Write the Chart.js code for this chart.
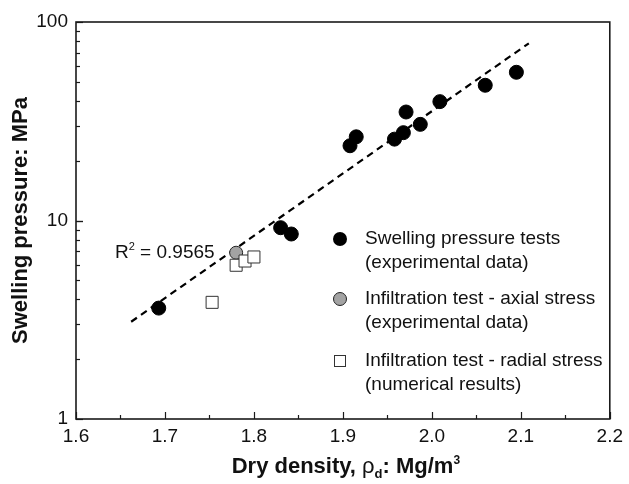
<!DOCTYPE html>
<html>
<head>
<meta charset="utf-8">
<script src="https://cdn.jsdelivr.net/npm/chart.js@4.4.1/dist/chart.umd.min.js"></script>
<style>
  html, body { margin: 0; padding: 0; background: #fff; }
  #wrap { width: 629px; height: 484px; }
</style>
</head>
<body>
<div id="wrap"><canvas id="swellChart"></canvas></div>
<script>
// Swelling pressure vs dry density

const swellX = [1.693, 1.830, 1.842, 1.908, 1.915, 1.958, 1.968, 1.971, 1.987, 2.009, 2.060, 2.095];
const swellY = [3.62, 9.2, 8.55, 23.8, 26.4, 25.7, 27.7, 35.2, 30.5, 39.7, 48.0, 55.8];

const axialX = [1.780];
const axialY = [6.88];

const radialX = [1.753, 1.780, 1.790, 1.800];
const radialY = [3.87, 5.95, 6.25, 6.55];

const fitX = [1.662, 2.109];
const fitY = [3.09, 78.1];

const xTicks = [1.6, 1.7, 1.8, 1.9, 2.0, 2.1, 2.2];
const yTicks = [1, 10, 100];

const legendLabels = [
    ['Swelling pressure tests', '(experimental data)'],
    ['Infiltration test - axial stress', '(experimental data)'],
    ['Infiltration test - radial stress', '(numerical results)']
];

function pts(xs, ys) {
    return xs.map(function(x, i) { return { x: x, y: ys[i] }; });
}

const FONT = '"Liberation Sans", Arial, Helvetica, sans-serif';

const framePlugin = {
    id: 'frame',
    afterDraw: function(chart) {
        const ctx = chart.ctx;
        const a = chart.chartArea;
        const xs = chart.scales.x;
        const ys = chart.scales.y;
        ctx.save();
        ctx.strokeStyle = '#1a1a1a';
        ctx.lineWidth = 1.2;

        // inside ticks on bottom axis
        for (let v = 1.6; v <= 2.2001; v += 0.05) {
            const px = Math.round(xs.getPixelForValue(v)) + 0.5;
            const major = Math.abs(Math.round(v * 10) - v * 10) < 0.001;
            ctx.beginPath();
            ctx.moveTo(px, a.bottom);
            ctx.lineTo(px, a.bottom - (major ? 7 : 4));
            ctx.stroke();
        }
        // inside ticks on left axis
        [1, 10].forEach(function(dec) {
            for (let m = 1; m <= 10; m++) {
                const py = Math.round(ys.getPixelForValue(dec * m)) + 0.5;
                const major = (m === 1 || m === 10);
                ctx.beginPath();
                ctx.moveTo(a.left, py);
                ctx.lineTo(a.left + (major ? 7 : 4), py);
                ctx.stroke();
            }
        });

        // frame
        ctx.lineWidth = 1.6;
        ctx.strokeRect(a.left, a.top, a.right - a.left, a.bottom - a.top);

        // axis titles
        ctx.fillStyle = '#111';
        ctx.font = 'bold 22px ' + FONT;
        ctx.textBaseline = 'middle';
        ctx.save();
        ctx.translate(21, (a.top + a.bottom) / 2);
        ctx.rotate(-Math.PI / 2);
        ctx.textAlign = 'center';
        ctx.fillText('Swelling pressure: MPa', 0, 0);
        ctx.restore();

        // x title with subscript
        const p1 = 'Dry density, ';
        const rho = '\u03C1';
        const sub = 'd';
        const p2 = ': Mg/m';
        const sup = '3';
        ctx.font = 'bold 22px ' + FONT;
        const w1 = ctx.measureText(p1).width;
        const w3 = ctx.measureText(p2).width;
        ctx.font = '22px ' + FONT;
        const wr = ctx.measureText(rho).width;
        ctx.font = 'bold 13px ' + FONT;
        const w2 = ctx.measureText(sub).width;
        ctx.font = 'bold 12px ' + FONT;
        const w4 = ctx.measureText(sup).width;
        let tx = (a.left + a.right) / 2 + 3 - (w1 + wr + w2 + w3 + w4) / 2;
        const ty = 467;
        ctx.textAlign = 'left';
        ctx.font = 'bold 22px ' + FONT;
        ctx.fillText(p1, tx, ty); tx += w1;
        ctx.font = '22px ' + FONT;
        ctx.fillText(rho, tx, ty); tx += wr;
        ctx.font = 'bold 13px ' + FONT;
        ctx.fillText(sub, tx, ty + 7); tx += w2;
        ctx.font = 'bold 22px ' + FONT;
        ctx.fillText(p2, tx, ty); tx += w3;
        ctx.font = 'bold 12px ' + FONT;
        ctx.fillText(sup, tx, ty - 6);

        // R^2 label
        ctx.font = '19px ' + FONT;
        ctx.fillText('R', 115, 253);
        const rw = ctx.measureText('R').width;
        ctx.font = '11px ' + FONT;
        ctx.fillText('2', 115 + rw, 247);
        const sw = ctx.measureText('2').width;
        ctx.font = '19px ' + FONT;
        ctx.fillText(' = 0.9565', 115 + rw + sw, 253);

        // legend
        const rows = [239, 299, 361];
        const mx = 340;
        ctx.lineWidth = 1;
        // black circle
        ctx.beginPath();
        ctx.arc(mx, rows[0], 7, 0, Math.PI * 2);
        ctx.fillStyle = '#000';
        ctx.fill();
        // grey circle
        ctx.beginPath();
        ctx.arc(mx, rows[1], 6.5, 0, Math.PI * 2);
        ctx.fillStyle = '#a3a3a3';
        ctx.fill();
        ctx.strokeStyle = '#222';
        ctx.stroke();
        // square
        ctx.fillStyle = '#fff';
        ctx.fillRect(mx - 6, rows[2] - 6, 12, 12);
        ctx.strokeStyle = '#333';
        ctx.strokeRect(mx - 5.5, rows[2] - 5.5, 11, 11);

        ctx.fillStyle = '#111';
        ctx.font = '19px ' + FONT;
        legendLabels.forEach(function(lines, i) {
            ctx.fillText(lines[0], 365, rows[i]);
            ctx.fillText(lines[1], 365, rows[i] + 24);
        });
        ctx.restore();
    }
};

const ctx = document.getElementById('swellChart').getContext('2d');
new Chart(ctx, {
    type: 'scatter',
    data: {
        datasets: [
            {
                label: 'fit',
                type: 'line',
                data: pts(fitX, fitY),
                borderColor: '#000',
                borderWidth: 2.2,
                borderDash: [7, 5],
                pointRadius: 0,
                fill: false,
                order: 4
            },
            {
                label: 'Swelling pressure tests',
                data: pts(swellX, swellY),
                backgroundColor: '#000',
                borderColor: '#000',
                pointRadius: 7,
                pointHoverRadius: 7,
                order: 3
            },
            {
                label: 'Infiltration test - axial stress',
                data: pts(axialX, axialY),
                backgroundColor: '#a3a3a3',
                borderColor: '#222',
                borderWidth: 1,
                pointRadius: 6.5,
                order: 2
            },
            {
                label: 'Infiltration test - radial stress',
                data: pts(radialX, radialY),
                pointStyle: 'rect',
                backgroundColor: '#fff',
                borderColor: '#333',
                borderWidth: 1,
                pointRadius: 8.5,
                order: 1
            }
        ]
    },
    options: {
        responsive: true,
        maintainAspectRatio: false,
        animation: false,
        layout: { padding: { top: 22, right: 14, left: 0, bottom: 0 } },
        plugins: {
            legend: { display: false },
            tooltip: { enabled: false }
        },
        scales: {
            x: {
                type: 'linear',
                min: 1.6,
                max: 2.2,
                grid: { display: false, drawTicks: false },
                border: { display: false },
                afterBuildTicks: function(scale) {
                    scale.ticks = xTicks.map(function(v) { return { value: v }; });
                },
                afterFit: function(scale) { scale.height = 65; },
                ticks: {
                    padding: 6,
                    color: '#111',
                    font: { family: FONT, size: 19 },
                    callback: function(v) { return Number(v).toFixed(1); }
                }
            },
            y: {
                type: 'logarithmic',
                min: 1,
                max: 100,
                grid: { display: false, drawTicks: false },
                border: { display: false },
                afterBuildTicks: function(scale) {
                    scale.ticks = yTicks.map(function(v) { return { value: v }; });
                },
                afterFit: function(scale) { scale.width = 76; },
                ticks: {
                    padding: 8,
                    color: '#111',
                    font: { family: FONT, size: 19 },
                    callback: function(v) { return String(v); }
                }
            }
        }
    },
    plugins: [framePlugin]
});
</script>
</body>
</html>
